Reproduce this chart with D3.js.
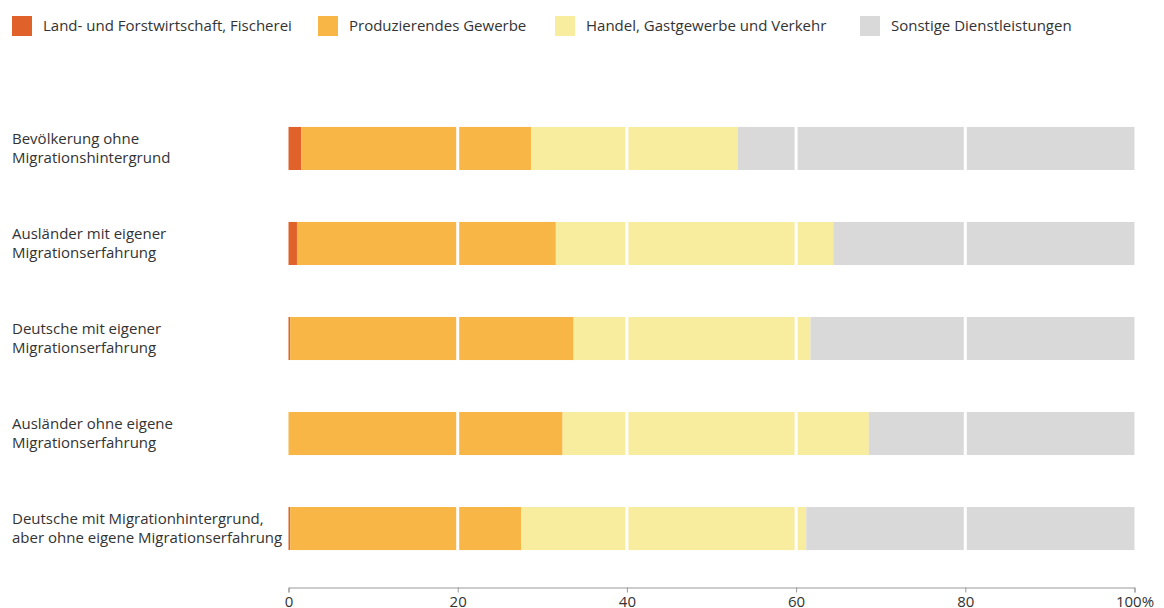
<!DOCTYPE html>
<html><head><meta charset="utf-8">
<script src="https://cdn.jsdelivr.net/npm/d3@7"></script>
<style>
html,body{margin:0;padding:0;background:#fff;}
svg{display:block;font-family:"Open Sans",sans-serif;}
</style></head>
<body>
<svg id="chart" width="1164" height="608"></svg>
<script>
const categories = [
  ["Bevölkerung ohne", "Migrationshintergrund"],
  ["Ausländer mit eigener", "Migrationserfahrung"],
  ["Deutsche mit eigener", "Migrationserfahrung"],
  ["Ausländer ohne eigene", "Migrationserfahrung"],
  ["Deutsche mit Migrationhintergrund,", "aber ohne eigene Migrationserfahrung"]
];
const seriesNames = ["Land- und Forstwirtschaft, Fischerei", "Produzierendes Gewerbe", "Handel, Gastgewerbe und Verkehr", "Sonstige Dienstleistungen"];
const landwirtschaft = [1.5, 1.0, 0.2, 0.0, 0.2];
const produzierend   = [27.2, 30.6, 33.5, 32.4, 27.3];
const handel         = [24.4, 32.8, 28.0, 36.2, 33.7];
const sonstige       = [46.9, 35.6, 38.3, 31.4, 38.8];
const xTicks = [0, 20, 40, 60, 80, 100];
const colors = ["#e0622a", "#f7b646", "#f8ec9e", "#d9d9d9"];

const svg = d3.select("#chart");
const x = d3.scaleLinear().domain([0, 100]).range([288.5, 1134.5]);
const y = d3.scaleBand().domain(d3.range(categories.length)).range([101, 576]).paddingInner(0.547).paddingOuter(0.273);

const rows = categories.map((c, i) => ({i, vals: [landwirtschaft[i], produzierend[i], handel[i], sonstige[i]]}));
const stack = d3.stack().keys([0,1,2,3]).value((d, k) => d.vals[k]);
const stacked = stack(rows);

const g = svg.append("g");
stacked.forEach((layer, k) => {
  g.selectAll(null).data(layer).enter().append("rect")
    .attr("x", d => x(d[0]))
    .attr("width", d => Math.max(0, x(d[1]) - x(d[0])))
    .attr("y", d => y(d.data.i))
    .attr("height", y.bandwidth())
    .attr("fill", colors[k]);
});
// white gridlines over bars
[20, 40, 60, 80].forEach(t => {
  categories.forEach((c, i) => {
    svg.append("line")
      .attr("x1", x(t)).attr("x2", x(t))
      .attr("y1", y(i) - 1).attr("y2", y(i) + y.bandwidth() + 1)
      .attr("stroke", "#fff").attr("stroke-width", 3);
  });
});

// category labels
categories.forEach((lines, i) => {
  const cy = y(i) + y.bandwidth() / 2;
  const t = svg.append("text").attr("x", 12).attr("fill", "#333").attr("font-size", 15);
  lines.forEach((ln, j) => {
    t.append("tspan").attr("x", 12).attr("y", cy - 9.5 + j * 19 + 5).text(ln);
  });
});

// axis
const axis = d3.axisBottom(x).tickValues(xTicks).tickSize(5).tickFormat(d => d === 100 ? "100%" : d);
const ax = svg.append("g").attr("transform", "translate(0,587.5)").call(axis);
ax.select(".domain").attr("stroke", "#999");
ax.selectAll(".tick line").attr("stroke", "#999");
ax.selectAll(".tick text").attr("fill", "#333").attr("font-size", 15).attr("font-family", "Open Sans, sans-serif").attr("dy", "0.78em");

// legend
const legendX = [12, 318, 555, 860];
seriesNames.forEach((name, k) => {
  svg.append("rect").attr("x", legendX[k]).attr("y", 16).attr("width", 20).attr("height", 20).attr("fill", colors[k]);
  svg.append("text").attr("x", legendX[k] + 31).attr("y", 31).attr("fill", "#333").attr("font-size", 15).text(name);
});
</script>
</body></html>
